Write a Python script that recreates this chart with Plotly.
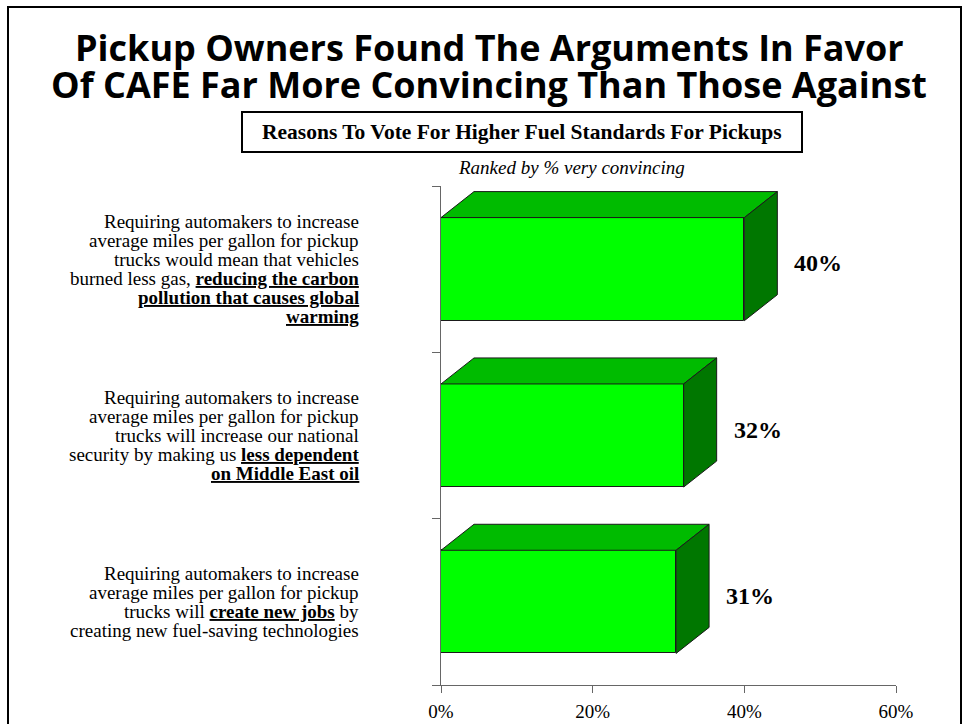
import plotly.graph_objects as go

# Reasons, one list of text lines per category (top to bottom)
reason_lines = [
    ["Requiring automakers to increase",
     "average miles per gallon for pickup",
     "trucks would mean that vehicles",
     "burned less gas, <b><u>reducing the carbon</u></b>",
     "<b><u>pollution that causes global</u></b>",
     "<b><u>warming</u></b>"],
    ["Requiring automakers to increase",
     "average miles per gallon for pickup",
     "trucks will increase our national",
     "security by making us <b><u>less dependent</u></b>",
     "<b><u>on Middle East oil</u></b>"],
    ["Requiring automakers to increase",
     "average miles per gallon for pickup",
     "trucks will <b><u>create new jobs</u></b> by",
     "creating new fuel-saving technologies"],
]
very_convincing = [40, 32, 31]
value_labels = ["40%", "32%", "31%"]
tick_values = [0, 20, 40, 60]
tick_labels = ["0%", "20%", "40%", "60%"]

title_lines = ["Pickup Owners Found The Arguments In Favor",
               "Of CAFE Far More Convincing Than Those Against"]
box_title = "Reasons To Vote For Higher Fuel Standards For Pickups"
note = "Ranked by % very convincing"

# page and plot-area geometry (pixels)
W, H = 969, 724
L, R = 441, 896
T, B = 186, 685
X_MAX = 60
N = len(very_convincing)

def px(x):
    return (x - L) / (R - L)

def py(y):
    return (B - y) / (B - T)

# 3-D extrusion of the bars, in data units
DX = 33 * X_MAX / (R - L)
DY = 26 * N / (B - T)
BAR_W = 0.62

SERIF = "Liberation Serif, Times New Roman, serif"
FRONT, TOP, SIDE = "#00FF00", "#00BB00", "#007700"
EDGE = "#1a1a1a"

cats = list(range(N))
fig = go.Figure()

# front faces
fig.add_trace(go.Bar(
    x=very_convincing, y=cats, orientation="h", width=BAR_W,
    marker=dict(color=FRONT, line=dict(color=EDGE, width=1)),
    hoverinfo="skip", showlegend=False,
))

# top and side faces
for i, v in enumerate(very_convincing):
    top_y = i - BAR_W / 2
    bot_y = i + BAR_W / 2
    fig.add_trace(go.Scatter(
        x=[0, v, v + DX, DX, 0],
        y=[top_y, top_y, top_y - DY, top_y - DY, top_y],
        mode="lines", fill="toself", fillcolor=TOP,
        line=dict(color=EDGE, width=1), hoverinfo="skip", showlegend=False,
    ))
    fig.add_trace(go.Scatter(
        x=[v, v + DX, v + DX, v, v],
        y=[top_y, top_y - DY, bot_y - DY, bot_y, top_y],
        mode="lines", fill="toself", fillcolor=SIDE,
        line=dict(color=EDGE, width=1), hoverinfo="skip", showlegend=False,
    ))

annotations = []

# value labels beside each bar
for i, (v, lab) in enumerate(zip(very_convincing, value_labels)):
    annotations.append(dict(
        x=v + DX, y=i, xref="x", yref="y", text=f"<b>{lab}</b>",
        xanchor="left", yanchor="middle", xshift=15, yshift=6,
        showarrow=False, font=dict(family=SERIF, size=24, color="black"),
    ))

# category descriptions, right-aligned left of the axis
LINE_H = 19
for i, lines in enumerate(reason_lines):
    n = len(lines)
    for k, line in enumerate(lines):
        annotations.append(dict(
            x=px(361), y=i, xref="paper", yref="y", text=line,
            xanchor="right", yanchor="middle", align="right",
            yshift=((n - 1) / 2 - k) * LINE_H,
            showarrow=False, font=dict(family=SERIF, size=19, color="black"),
        ))

# headline
for k, (line, yc) in enumerate(zip(title_lines, [48, 84])):
    annotations.append(dict(
        x=px(489), y=py(yc), xref="paper", yref="paper", text=f"<b>{line}</b>",
        xanchor="center", yanchor="middle", showarrow=False,
        font=dict(family="Open Sans, Lato, sans-serif", size=36, color="black"),
    ))

# boxed subtitle and note
annotations.append(dict(
    x=px(522), y=py(132), xref="paper", yref="paper", text=f"<b>{box_title}</b>",
    xanchor="center", yanchor="middle", showarrow=False,
    font=dict(family=SERIF, size=21.5, color="black"),
))
annotations.append(dict(
    x=px(571), y=py(168), xref="paper", yref="paper", text=f"<i>{note}</i>",
    xanchor="center", yanchor="middle", showarrow=False,
    font=dict(family=SERIF, size=19, color="black"),
))

shapes = [
    dict(type="rect", xref="paper", yref="paper",
         x0=px(242), x1=px(802), y0=py(152), y1=py(112),
         line=dict(color="black", width=2), fillcolor="rgba(0,0,0,0)"),
    dict(type="rect", xref="paper", yref="paper",
         x0=px(8), x1=px(961), y0=py(740), y1=py(7),
         line=dict(color="black", width=2), fillcolor="rgba(0,0,0,0)"),
]

fig.update_layout(
    width=W, height=H,
    margin=dict(l=L, r=W - R, t=T, b=H - B, pad=0, autoexpand=False),
    paper_bgcolor="white", plot_bgcolor="white",
    bargap=0, annotations=annotations, shapes=shapes,
    xaxis=dict(range=[0, X_MAX], tickvals=tick_values, ticktext=tick_labels,
               ticks="outside", ticklen=7, tickcolor="#666", showline=True,
               linecolor="#666", linewidth=1, showgrid=False, zeroline=False,
               ticklabelstandoff=2, automargin=False,
               tickfont=dict(family=SERIF, size=19, color="black")),
    yaxis=dict(range=[N - 0.5, -0.5], tickvals=[c - 0.5 for c in range(N + 1)],
               ticks="outside", ticklen=8, tickcolor="#666", showline=True,
               linecolor="#666", linewidth=1, showgrid=False, zeroline=False,
               showticklabels=False, automargin=False),
)

fig.write_html("out.html")
